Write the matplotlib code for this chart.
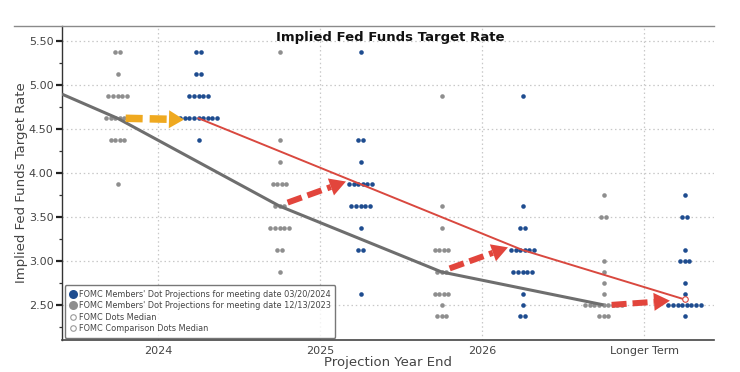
import matplotlib
matplotlib.use('Agg')
import matplotlib.pyplot as plt
import numpy as np
from matplotlib.lines import Line2D
from matplotlib.patches import Polygon

# ---------------- data ----------------
categories = ['2024', '2025', '2026', 'Longer Term']

mar_levels = [
    [5.375, 5.125, 4.875, 4.625, 4.375],
    [5.375, 4.375, 4.125, 3.875, 3.625, 3.375, 3.125, 2.625],
    [4.875, 3.625, 3.375, 3.125, 2.875, 2.625, 2.5, 2.375],
    [3.75, 3.5, 3.125, 3.0, 2.75, 2.625, 2.5, 2.375],
]
mar_counts = [
    [2, 2, 5, 9, 1],
    [1, 2, 1, 6, 5, 1, 2, 1],
    [1, 1, 2, 6, 5, 1, 1, 2],
    [1, 2, 1, 3, 1, 1, 8, 1],
]
dec_levels = [
    [5.375, 5.125, 4.875, 4.625, 4.375, 3.875],
    [5.375, 4.375, 4.125, 3.875, 3.625, 3.375, 3.125, 2.875],
    [4.875, 3.625, 3.375, 3.125, 2.875, 2.625, 2.5, 2.375],
    [3.75, 3.5, 3.0, 2.875, 2.75, 2.625, 2.5, 2.375],
]
dec_counts = [
    [2, 1, 5, 6, 4, 1],
    [1, 1, 1, 4, 3, 5, 2, 1],
    [1, 1, 1, 4, 3, 4, 1, 3],
    [1, 2, 1, 1, 1, 1, 9, 3],
]
mar_median = [4.625, 3.875, 3.125, 2.5625]
dec_median = [4.625, 3.625, 2.875, 2.5]
dec_median_lead = 4.90   # comparison median line value at left edge

yticks = [2.5, 3.0, 3.5, 4.0, 4.5, 5.0, 5.5]

legend_labels = [
    "FOMC Members' Dot Projections for meeting date 03/20/2024",
    "FOMC Members' Dot Projections for meeting date 12/13/2023",
    "FOMC Dots Median",
    "FOMC Comparison Dots Median",
]

# ---------------- style ----------------
BLUE = '#1E4C8F'
GRAY = '#8E8E8E'
RED_LINE = '#D9483F'
GRAY_LINE = '#6E6E6E'
ARROW_RED = '#E2453C'
ARROW_ORANGE = '#EFA920'
OFF = 0.25
SP = 0.0285

fig = plt.figure(figsize=(7.4, 3.72), dpi=100)
ax = fig.add_axes([62/740, 1-340/372, (714-62)/740, (340-26)/372])
XL = (-0.593, 3.432)
YL = (2.10, 5.676)
ax.set_xlim(*XL)
ax.set_ylim(*YL)

pos = np.arange(len(categories))

# grid
for yv in yticks:
    ax.axhline(yv, color='#C8C8C8', lw=0.9, ls=(0, (1.2, 2.2)), zorder=0)
for xv in pos:
    ax.axvline(xv, color='#C8C8C8', lw=0.9, ls=(0, (1.2, 2.2)), zorder=0)

def draw_dots(levels, counts, center, color, z):
    for lv, n in zip(levels, counts):
        xs = center + (np.arange(n) - (n - 1) / 2) * SP
        ax.plot(xs, [lv] * n, 'o', ms=3.3, color=color, mec=color, mew=0, zorder=z)

for i in range(len(categories)):
    draw_dots(dec_levels[i], dec_counts[i], pos[i] - OFF, GRAY, 2)
    draw_dots(mar_levels[i], mar_counts[i], pos[i] + OFF, BLUE, 3)

# median lines
gx = np.concatenate([[XL[0]], pos - OFF])
gy = np.concatenate([[dec_median_lead], dec_median])
ax.plot(gx, gy, color=GRAY_LINE, lw=2.2, zorder=4, solid_capstyle='butt')
ax.plot(pos + OFF, mar_median, color=RED_LINE, lw=1.4, zorder=4)
ax.plot((pos + OFF)[-1:], mar_median[-1:], 'o', ms=4, mfc='white', mec=RED_LINE, mew=0.8, zorder=5)

# arrows from comparison median to current median
def dashed_arrow(x0, y0, x1, y1, color, lw_px, head_len, head_w, dash_on, dash_off):
    T = ax.transData
    p0 = T.transform((x0, y0))
    p1 = T.transform((x1, y1))
    d = p1 - p0
    L = np.hypot(*d)
    u = d / L
    nrm = np.array([-u[1], u[0]])
    base = p1 - u * head_len
    inv = T.inverted()
    b = inv.transform(base)
    lw_pt = lw_px * 72 / 100
    ax.plot([x0, b[0]], [y0, b[1]], color=color, lw=lw_pt, solid_capstyle='butt',
            dash_capstyle='butt',
            dashes=(dash_on * 72 / 100 / lw_pt, dash_off * 72 / 100 / lw_pt), zorder=6)
    pts = np.array([p1, base + nrm * head_w / 2, base - nrm * head_w / 2])
    ax.add_patch(Polygon(inv.transform(pts), closed=True, color=color, lw=0, zorder=6))

for i in range(len(categories)):
    x0 = pos[i] - OFF + 0.05
    x1 = pos[i] + OFF - 0.09
    y0 = dec_median[i] + (0.04 if i in (1, 2) else 0.0)
    y1 = mar_median[i] + (0.03 if i in (1, 2) else -0.015)
    if i == 0:
        dashed_arrow(x0, y0, x1, y1, ARROW_ORANGE, 7.5, 15, 18, 17, 7)
    else:
        dashed_arrow(x0, y0, x1, y1, ARROW_RED, 6, 16, 18, 15, 6)

# axes styling
ax.set_yticks(yticks)
ax.set_yticklabels([f'{v:.2f}' for v in yticks])
ax.set_yticks(np.arange(2.25, 5.7, 0.25), minor=True)
ax.set_xticks(pos)
ax.set_xticklabels(categories)
ax.tick_params(axis='y', which='major', length=4, width=1.6, colors='#222222',
               labelcolor='#444444', labelsize=8, pad=2)
ax.tick_params(axis='y', which='minor', length=2.5, width=0.9, colors='#333333')
ax.tick_params(axis='x', length=0, labelcolor='#444444', labelsize=8, pad=4)
for s in ('top', 'right'):
    ax.spines[s].set_visible(False)
ax.spines['left'].set_color('#333333')
ax.spines['left'].set_linewidth(1.0)
ax.spines['bottom'].set_color('#444444')
ax.spines['bottom'].set_linewidth(1.2)

ax.set_xlabel('Projection Year End', fontsize=9.5, color='#444444', labelpad=0)
ax.set_ylabel('Implied Fed Funds Target Rate', fontsize=9.5, color='#444444', labelpad=1)

ax.text(0.503, 0.963, 'Implied Fed Funds Target Rate', transform=ax.transAxes,
        ha='center', va='center', fontsize=9.5, fontweight='bold', color='#111111', zorder=7)

# top frame line
fig.add_artist(Line2D([14/740, 714/740], [1-26/372, 1-26/372], color='#8A8A8A', lw=1.0))

# legend
handles = [
    Line2D([], [], ls='none', marker='o', ms=6.5, color=BLUE, mew=0),
    Line2D([], [], ls='none', marker='o', ms=6.5, color=GRAY, mew=0),
    Line2D([], [], ls='none', marker='o', ms=4, mfc='white', mec='#999999', mew=0.8),
    Line2D([], [], ls='none', marker='o', ms=4, mfc='white', mec='#999999', mew=0.8),
]
leg = ax.legend(handles, legend_labels, loc='lower left', bbox_to_anchor=(0.004, 0.006),
                borderaxespad=0, fontsize=5.9, handlelength=0.8, handletextpad=0.3,
                labelspacing=0.3, borderpad=0.6, frameon=True, fancybox=True,
                labelcolor='#444444')
leg.get_frame().set_edgecolor('#555555')
leg.get_frame().set_linewidth(1.0)
leg.set_zorder(8)

fig.savefig('out.png', dpi=100)
